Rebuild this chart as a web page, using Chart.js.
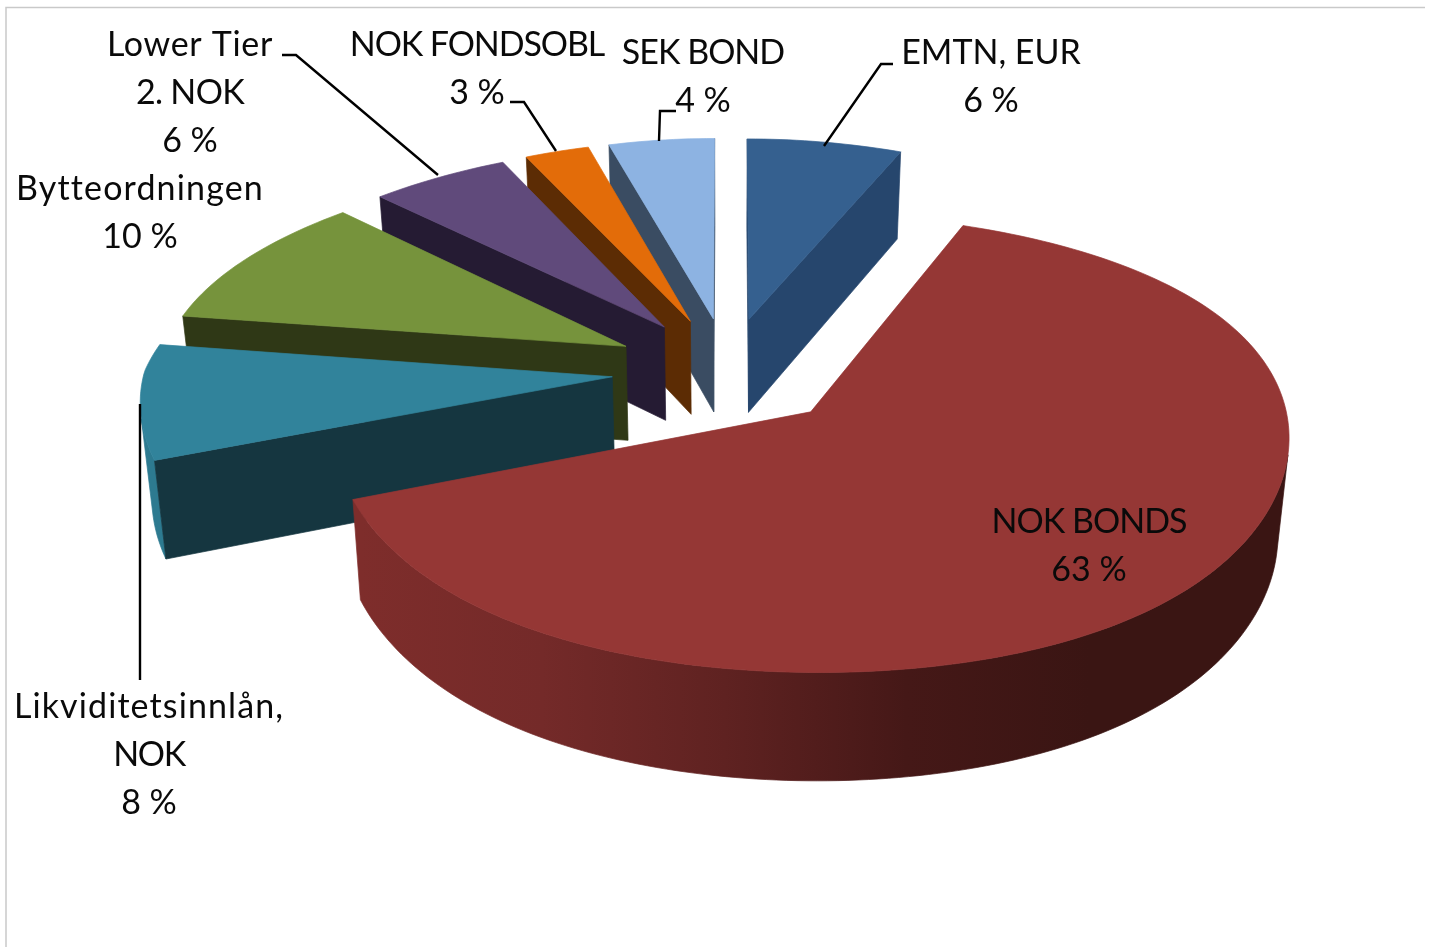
<!DOCTYPE html>
<html><head><meta charset="utf-8">
<style>html,body{margin:0;padding:0;background:#fff}canvas{display:block}</style>
<script src="https://cdn.jsdelivr.net/npm/chart.js@4"></script>
</head><body><canvas id="c" width="1433" height="947"></canvas>
<script>
// ----- data -----
const categories = ["EMTN, EUR","NOK BONDS","Likviditetsinnlån, NOK","Bytteordningen","Lower Tier 2. NOK","NOK FONDSOBL","SEK BOND"];
const values = [5.9,63.45,8.0,10.4,5.6,2.55,4.1];
const topColors = ["#35608f","#953735","#31839b","#76933c","#604a7b","#e36c09","#8db3e2"];
const wallColors = ["#26466d","#7a2c2b","#153640","#2f3816","#251b33","#5c2c04","#3a4c62"];
const rimColors = ["#26466d",null,"#2d7a90","#2f3816","#251b33","#5c2c04","#3a4c62"];
const redRimStops = ["#7e2d2b","#742a29","#5f2221","#451817","#3a1513","#3a1513"];
// label text split in lines, with anchor centre, first baseline and tracking
const labelLines = [["EMTN, EUR"],["NOK BONDS"],["Likviditetsinnlån,","NOK"],["Bytteordningen"],["Lower Tier","2. NOK"],["NOK FONDSOBL"],["SEK BOND"]];
const labelTracking = [[0],[-1],[1.1,-1.4],[1.15],[0.7,-0.7],[-1.1],[-1]];
const labelCenters = [991,1089,149,140,190,477,703];
const labelBaselines = [64,533,718,200,56,56,64];
const leaderLines = [
  [[893,64],[881,64],[824,146]],
  [[282,55],[296,55],[438,175]],
  [[510,102],[524,102],[556,151]],
  [[676,111],[660,111],[659,141]],
  [[140,404],[140,680]]
];
const drawOrder = [0,6,5,4,3,2,1];

// ----- view model of the tilted, exploded pie -----
const view = {cx:728, rx:468, kx:0.09, explode:0.248, yCurve:[371,-223,46.3,1.24,-12], depthCurve:[95,-9,2], baseShrink:0.98, farLeftPinch:0.035};
function poly(c,v){return c.reduceRight((acc,k)=>acc*v+k,0);}
function project(u,v,down){
  let f=1;
  if(u<0&&v>0){
    const r2=u*u+v*v;
    f=1-view.farLeftPinch*Math.min(1,r2/0.81)*2*(-u)*v/r2;
  }
  let x = view.cx + f*view.rx*u/(1+view.kx*v);
  let y = poly(view.yCurve,v);
  if(down){ x = view.cx+(x-view.cx)*view.baseShrink; y += poly(view.depthCurve,v); }
  return [x,y];
}
function area(q){let s=0;for(let i=0;i<q.length;i++){const a=q[i],b=q[(i+1)%q.length];s+=a[0]*b[1]-b[0]*a[1];}return s;}
function fillPoly(ctx,pts,color){
  ctx.beginPath();pts.forEach((p,i)=>i?ctx.lineTo(p[0],p[1]):ctx.moveTo(p[0],p[1]));ctx.closePath();
  ctx.fillStyle=color;ctx.fill();ctx.strokeStyle=color;ctx.lineWidth=0.7;ctx.stroke();
}
const pie3d = {
  id:'pie3d',
  beforeDatasetDraw(chart){
    const ctx=chart.ctx, arcs=chart.getDatasetMeta(0).data;
    drawOrder.forEach(i=>{
      const a=arcs[i];
      const s=a.startAngle+Math.PI/2, e=a.endAngle+Math.PI/2, mid=(s+e)/2;
      const ou=view.explode*Math.sin(mid), ov=view.explode*Math.cos(mid);
      const P=(phi,r,down)=>project(ou+r*Math.sin(phi),ov+r*Math.cos(phi),down);
      const n=Math.max(8,Math.ceil((e-s)/0.02));
      const phis=[];for(let k=0;k<=n;k++)phis.push(s+(e-s)*k/n);
      // rim wall as one polygon over the part that faces the viewer
      let rim=rimColors[i];
      if(!rim){
        const x0=P(e,1,true)[0], x1=view.cx+view.rx*1.16;
        const g=ctx.createLinearGradient(x0,0,x1,0);
        redRimStops.forEach((c,k)=>g.addColorStop(k/(redRimStops.length-1),c));
        rim=g;
      }
      const upper=[],lower=[];
      for(let k=0;k<n;k++){
        const q=[P(phis[k],1,false),P(phis[k+1],1,false),P(phis[k+1],1,true),P(phis[k],1,true)];
        if(area(q)<0){
          if(!upper.length){upper.push(q[0]);lower.push(q[3]);}
          upper.push(q[1]);lower.push(q[2]);
        }
      }
      if(upper.length) fillPoly(ctx,upper.concat(lower.reverse()),rim);
      // radial walls
      const sq=[P(s,0,false),P(s,1,false),P(s,1,true),P(s,0,true)];
      if(area(sq)<0) fillPoly(ctx,sq,wallColors[i]);
      const eq=[P(e,0,false),P(e,1,false),P(e,1,true),P(e,0,true)];
      if(area(eq)>0) fillPoly(ctx,eq,wallColors[i]);
      // top face
      fillPoly(ctx,[P(s,0,false)].concat(phis.map(p=>P(p,1,false))),a.options.backgroundColor);
    });
    return false;
  },
  afterDraw(chart){
    const ctx=chart.ctx;
    ctx.save();
    ctx.strokeStyle="#c9c9c9";ctx.lineWidth=1.5;
    ctx.beginPath();ctx.moveTo(6,947);ctx.lineTo(6,7.5);ctx.lineTo(1425,7.5);ctx.stroke();
    ctx.strokeStyle="#000";ctx.lineWidth=2.4;
    leaderLines.forEach(l=>{ctx.beginPath();l.forEach((p,i)=>i?ctx.lineTo(p[0],p[1]):ctx.moveTo(p[0],p[1]));ctx.stroke();});
    ctx.fillStyle="#0a0a0a";ctx.font="34px Lato";ctx.textAlign="center";ctx.textBaseline="alphabetic";
    categories.forEach((c,i)=>{
      const lines=labelLines[i].concat([Math.round(values[i])+" %"]);
      lines.forEach((t,k)=>{
        ctx.letterSpacing=(labelTracking[i][k]||0)+"px";
        ctx.fillText(t,labelCenters[i],labelBaselines[i]+k*48);
      });
    });
    ctx.restore();
  }
};
new Chart(document.getElementById('c'),{
  type:'pie',
  data:{labels:categories,datasets:[{data:values,backgroundColor:topColors,borderWidth:0}]},
  options:{responsive:false,animation:false,rotation:0,
    plugins:{legend:{display:false},tooltip:{enabled:false}}},
  plugins:[pie3d]
});
</script></body></html>
